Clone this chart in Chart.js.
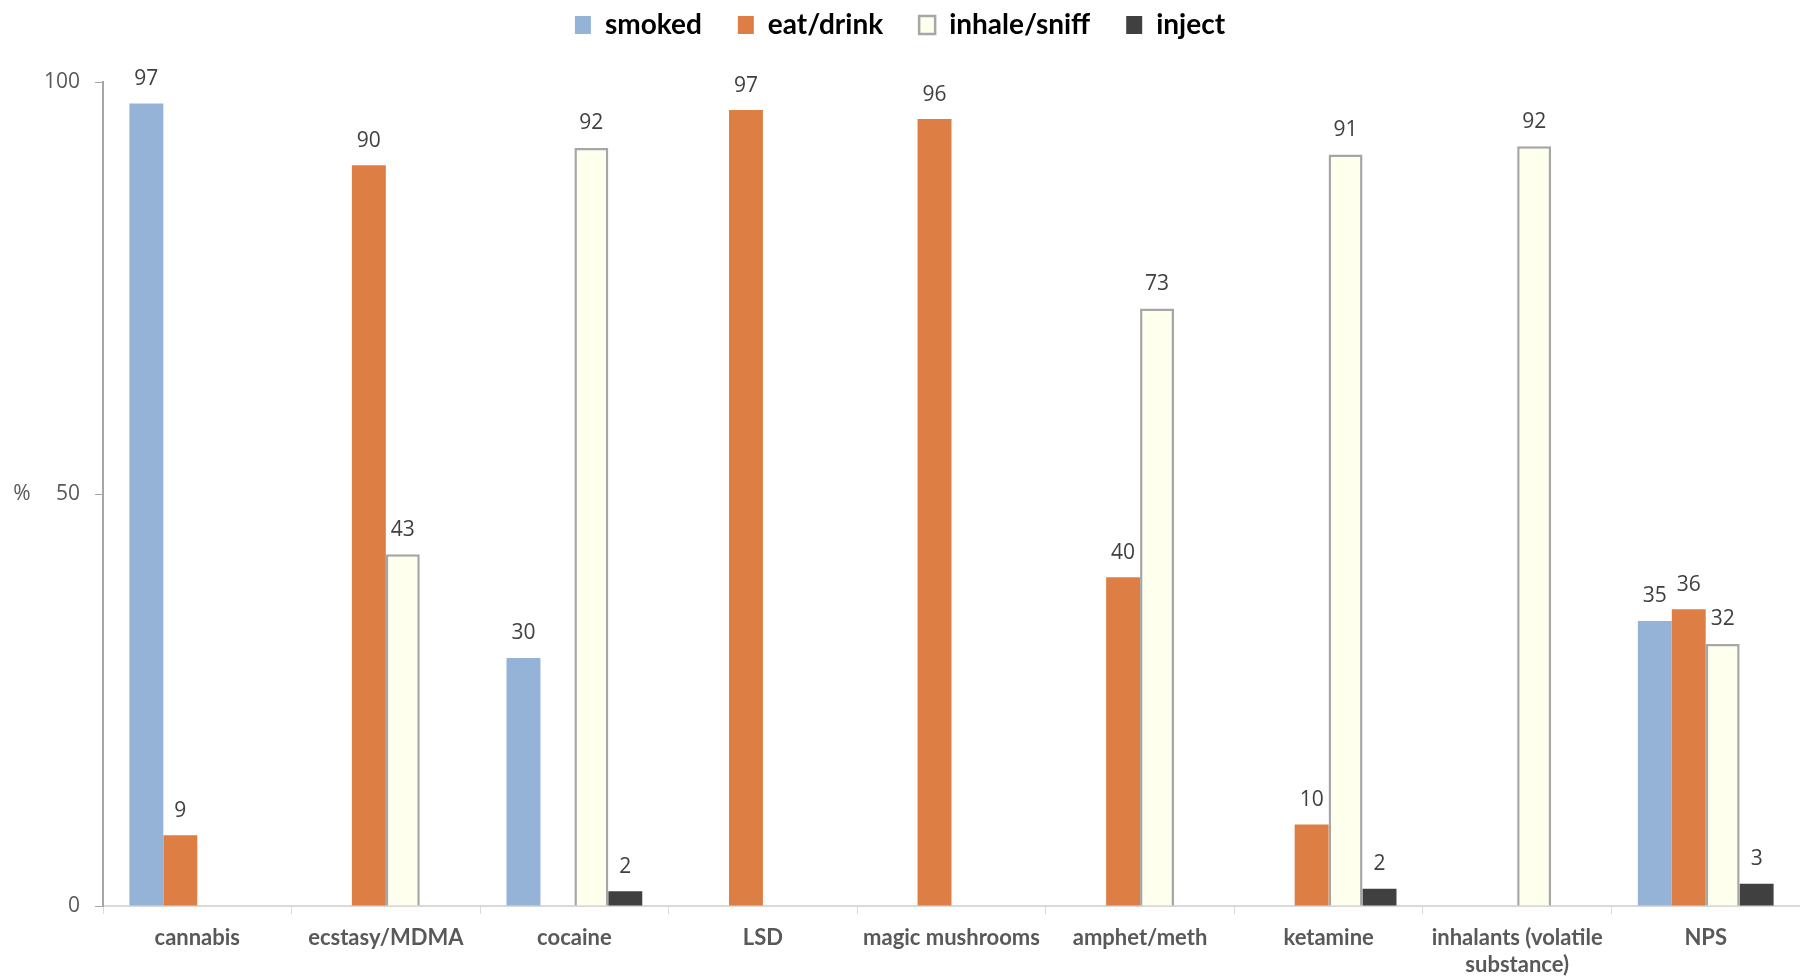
<!DOCTYPE html>
<html>
<head>
    <title>Route of administration by substance</title>
    <script src="https://cdn.jsdelivr.net/npm/chart.js"></script>
    <style>
        body {
            margin: 0;
            background: white;
        }
    </style>
</head>
<body>
    <canvas id="routeChart" width="1800" height="978"></canvas>

    <script>
        // Categories (substances)
        const substances = ['cannabis', 'ecstasy/MDMA', 'cocaine', 'LSD', 'magic mushrooms',
            'amphet/meth', 'ketamine', ['inhalants (volatile', 'substance)'], 'NPS'];

        // Percent per route, null = no bar
        const smoked = [97.4, null, 30.1, null, null, null, null, null, 34.6];
        const eatDrink = [8.6, 89.9, null, 96.6, 95.5, 39.9, 9.9, null, 36.0];
        const inhaleSniff = [null, 42.7, 92.0, null, null, 72.5, 91.2, 92.2, 31.8];
        const inject = [null, null, 1.8, null, null, null, 2.1, null, 2.7];

        const yTicks = [0, 50, 100];

        const labelFont = '"Open Sans", sans-serif';
        const boldFont = 'Lato, sans-serif';

        // Draws the value above every bar
        const valueLabels = {
            id: 'valueLabels',
            afterDatasetsDraw(chart) {
                const ctx = chart.ctx;
                ctx.save();
                ctx.font = '21px ' + labelFont;
                ctx.fillStyle = '#404040';
                ctx.textAlign = 'center';
                ctx.textBaseline = 'bottom';
                chart.data.datasets.forEach((ds, i) => {
                    const meta = chart.getDatasetMeta(i);
                    meta.data.forEach((bar, j) => {
                        const v = ds.data[j];
                        if (v === null) return;
                        ctx.fillText(Math.round(v), bar.x, bar.y - 14);
                    });
                });
                ctx.restore();
            }
        };

        // Horizontal "%" axis title on the left
        const percentTitle = {
            id: 'percentTitle',
            afterDraw(chart) {
                const ctx = chart.ctx;
                const y = chart.scales.y.getPixelForValue(50);
                ctx.save();
                ctx.font = '21px ' + labelFont;
                ctx.fillStyle = '#595959';
                ctx.textAlign = 'center';
                ctx.textBaseline = 'middle';
                ctx.fillText('%', 22, y);
                ctx.restore();
            }
        };

        // Extra room under the legend
        const legendMargin = {
            id: 'legendMargin',
            beforeInit(chart) {
                const fit = chart.legend.fit;
                chart.legend.fit = function () {
                    fit.bind(chart.legend)();
                    this.height += 33;
                };
            }
        };

        const data = {
            labels: substances,
            datasets: [
                { label: 'smoked', data: smoked, backgroundColor: '#95B3D7', borderWidth: 0 },
                { label: 'eat/drink', data: eatDrink, backgroundColor: '#DD7F45', borderWidth: 0 },
                { label: 'inhale/sniff', data: inhaleSniff, backgroundColor: '#FEFFEC', borderColor: '#A6A6A6', borderWidth: 2.5 },
                { label: 'inject', data: inject, backgroundColor: '#404040', borderWidth: 0 }
            ]
        };

        const config = {
            type: 'bar',
            data: data,
            options: {
                responsive: false,
                animation: false,
                categoryPercentage: 0.72,
                barPercentage: 1.0,
                layout: {
                    padding: { top: -25, right: 0, left: 0, bottom: 0 }
                },
                plugins: {
                    legend: {
                        position: 'top',
                        labels: {
                            color: '#000000',
                            boxWidth: 16,
                            boxHeight: 18,
                            padding: 36,
                            font: { family: boldFont, size: 28, weight: 'bold' }
                        }
                    },
                    tooltip: { enabled: false }
                },
                scales: {
                    x: {
                        grid: {
                            offset: true,
                            drawOnChartArea: false,
                            color: '#D9D9D9',
                            tickLength: 8
                        },
                        border: { color: '#D9D9D9', width: 2 },
                        ticks: {
                            color: '#595959',
                            padding: 11,
                            maxRotation: 0,
                            autoSkip: false,
                            font: { family: boldFont, size: 22, weight: 'bold' }
                        },
                        afterFit: (scale) => { scale.height = 72; }
                    },
                    y: {
                        min: 0,
                        max: 100,
                        afterBuildTicks: (scale) => { scale.ticks = yTicks.map(v => ({ value: v })); },
                        grid: {
                            drawOnChartArea: false,
                            color: '#A6A6A6',
                            tickLength: 8
                        },
                        border: { color: '#A6A6A6', width: 2 },
                        ticks: {
                            color: '#595959',
                            padding: 15,
                            font: { family: labelFont, size: 21 }
                        },
                        afterFit: (scale) => { scale.width = 103; }
                    }
                }
            },
            plugins: [valueLabels, percentTitle, legendMargin]
        };

        const ctx = document.getElementById('routeChart').getContext('2d');
        const chart = new Chart(ctx, config);
    </script>
</body>
</html>
